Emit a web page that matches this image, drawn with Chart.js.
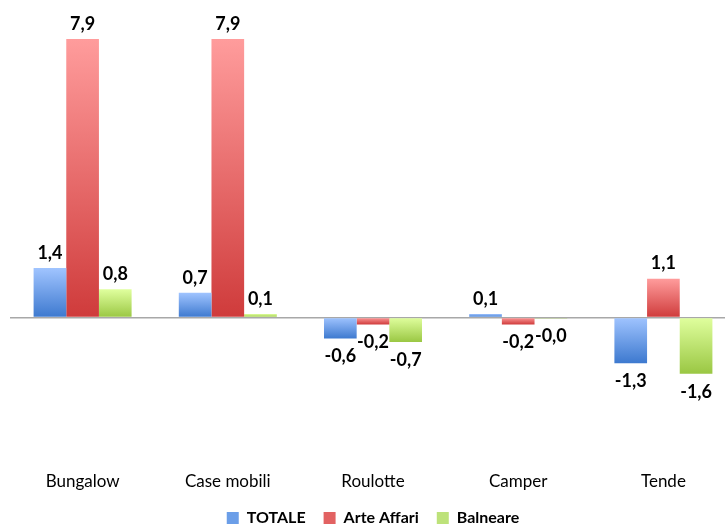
<!DOCTYPE html>
<html>
<head>
<meta charset="utf-8">
<script src="https://cdn.jsdelivr.net/npm/chart.js@4"></script>
<style>
  html, body { margin: 0; padding: 0; background: #fff; overflow: hidden; }
  #wrap { width: 736px; height: 524px; }
</style>
</head>
<body>
<div id="wrap"><canvas id="bar"></canvas></div>
<script>
const categorie = ['Bungalow', 'Case mobili', 'Roulotte', 'Camper', 'Tende'];
const totale = [1.4, 0.7, -0.6, 0.1, -1.3];
const arteAffari = [7.9, 7.9, -0.2, -0.2, 1.1];
const balneare = [0.8, 0.1, -0.7, -0.02, -1.6];

const serie = ['TOTALE', 'Arte Affari', 'Balneare'];
const coloriAlto = ['#a0c4ff', '#ff9c9c', '#e0ff9e'];
const coloriBasso = ['#3d79cf', '#cf3b3b', '#9ac743'];
const coloriLegenda = ['#6b9ee8', '#e26262', '#bde27a'];

function gradiente(i) {
  return function (context) {
    const chart = context.chart;
    const y = chart.scales.y;
    if (!y || context.raw === undefined) return coloriLegenda[i];
    const a = y.getPixelForValue(context.raw);
    const b = y.getPixelForValue(0);
    const top = Math.min(a, b), bot = Math.max(a, b);
    if (bot - top < 1) return coloriBasso[i];
    const g = chart.ctx.createLinearGradient(0, top, 0, bot);
    g.addColorStop(0, coloriAlto[i]);
    g.addColorStop(1, coloriBasso[i]);
    return g;
  };
}

const etichette = {
  id: 'etichette',
  afterDatasetsDraw(chart) {
    const ctx = chart.ctx;
    ctx.save();
    ctx.font = 'bold 18px Lato';
    ctx.fillStyle = '#000';
    ctx.textAlign = 'center';
    ctx.textBaseline = 'middle';
    chart.data.datasets.forEach((ds, i) => {
      chart.getDatasetMeta(i).data.forEach((el, j) => {
        const v = ds.data[j];
        const txt = v.toFixed(1).replace('.', ',');
        const y = v >= 0 ? el.y - 15 : el.y + 18;
        ctx.fillText(txt, el.x, y);
      });
    });
    ctx.restore();
  }
};

const bar = document.getElementById('bar');

new Chart(bar, {
  type: 'bar',
  data: {
    labels: categorie,
    datasets: [
      { label: serie[0], data: totale, backgroundColor: gradiente(0) },
      { label: serie[1], data: arteAffari, backgroundColor: gradiente(1) },
      { label: serie[2], data: balneare, backgroundColor: gradiente(2) }
    ]
  },
  options: {
    responsive: true,
    maintainAspectRatio: false,
    animation: false,
    datasets: {
      bar: { categoryPercentage: 0.675, barPercentage: 1.0 }
    },
    layout: { padding: { left: 10, top: 6, right: 0, bottom: -12 } },
    scales: {
      x: {
        grid: { display: false },
        border: { display: false },
        ticks: { color: '#000', font: { family: 'Lato', size: 17 }, padding: 0 }
      },
      y: {
        min: -4.15,
        max: 8.84,
        ticks: { display: false, stepSize: 1 },
        border: { display: false },
        grid: {
          color: (c) => c.tick && Math.abs(c.tick.value) < 1e-6 ? '#a8a8a8' : 'rgba(0,0,0,0)',
          lineWidth: 1.5,
          drawTicks: false
        }
      }
    },
    plugins: {
      tooltip: { enabled: false },
      legend: {
        position: 'bottom',
        labels: {
          color: '#000',
          font: { family: 'Lato', size: 16, weight: 'bold' },
          boxWidth: 12,
          boxHeight: 12,
          padding: 18,
          generateLabels: (chart) => chart.data.datasets.map((ds, i) => ({
            text: ds.label,
            fillStyle: coloriLegenda[i],
            strokeStyle: coloriLegenda[i],
            lineWidth: 0,
            datasetIndex: i
          }))
        }
      }
    }
  },
  plugins: [etichette]
});
</script>
</body>
</html>
